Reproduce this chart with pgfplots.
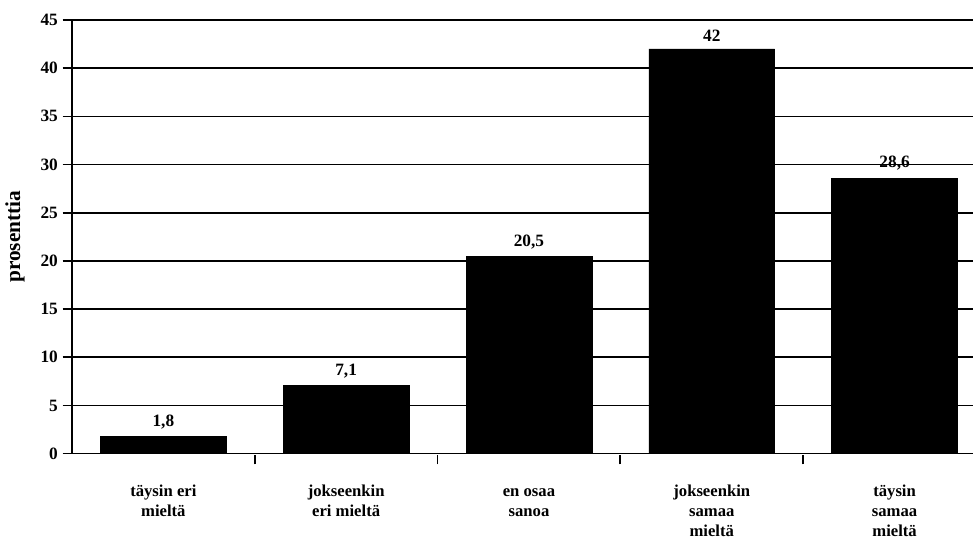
\documentclass[border=0pt]{standalone}
\usepackage{pgfplots}
\pgfplotsset{compat=1.18}
\usepackage{fontspec}
\setmainfont{Liberation Serif}
\begin{document}
\begin{tikzpicture}
\begin{axis}[
  scale only axis,
  width=676.5pt, height=325.5pt,
  ybar, bar width=94.5pt,
  xmin=-0.5, xmax=4.43,
  ymin=0, ymax=45,
  ytick={0,5,...,45},
  ymajorgrids, grid style={black, line width=1.2pt},
  axis x line*=bottom, axis y line*=left,
  axis line style={black, line width=1.2pt, -},
  xtick={0.5,1.5,2.5,3.5},
  xticklabels={},
  extra x ticks={0,1,2,3,4},
  extra x tick labels={\strut täysin eri\\mieltä, \strut jokseenkin\\eri mieltä, \strut en osaa\\sanoa, \strut jokseenkin\\samaa\\mieltä, \strut täysin\\samaa\\mieltä},
  extra x tick style={major tick length=0pt, tick style={draw=none},
    tick label style={align=center, font=\fontsize{12.5}{15}\selectfont\bfseries, yshift=-18pt}},
  major x tick style={black, line width=1.4pt, yshift=-1pt},
  y tick label style={font=\fontsize{13}{15}\selectfont\bfseries},
  major y tick style={black, line width=1.2pt},
  tick align=outside, major tick length=7pt,
  /pgf/number format/assume math mode=true,
  /pgf/number format/use comma,
  ylabel={prosenttia},
  ylabel style={font=\fontsize{16}{18}\selectfont\bfseries, yshift=5pt},
  nodes near coords,
  every node near coord/.append style={font=\fontsize{13}{15}\selectfont\bfseries, black, yshift=2pt},
  clip=false,
]
\addplot[fill=black, draw=black] coordinates {(0,1.8) (1,7.1) (2,20.5) (3,42) (4,28.6)};
\end{axis}
\path (current axis.south west) ++(-54pt,-65pt);
\path (current axis.north east) ++(0,15pt);
\end{tikzpicture}
\end{document}
